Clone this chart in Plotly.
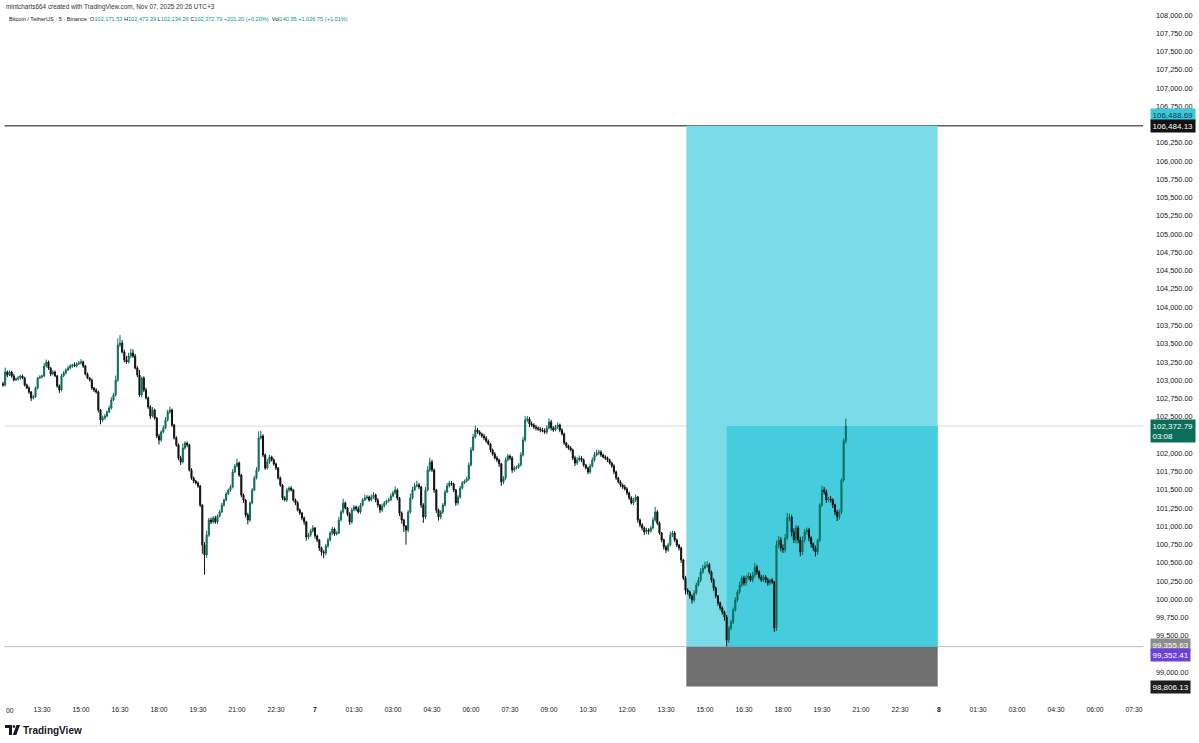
import pandas as pd
import plotly.graph_objects as go

# ---------------- data ----------------
first_open = 102950
closes = [
    102934, 103112, 103071, 103112, 103058, 103003, 103016, 103030, 103058, 103030,
    102934, 102893, 102838, 102756, 102770, 102893, 103030, 103044, 103058, 103194,
    103249, 103167, 103085, 103112, 103058, 102921, 102866, 103058, 103099, 103140,
    103167, 103194, 103208, 103194, 103222, 103235, 103249, 103194, 103085, 103030,
    103003, 102893, 102866, 102838, 102592, 102455, 102483, 102510, 102565, 102619,
    102729, 102797, 103003, 103482, 103509, 103386, 103277, 103249, 103331, 103372,
    103331, 103167, 103071, 102797, 103030, 102866, 102756, 102633, 102510, 102592,
    102483, 102236, 102181, 102291, 102346, 102455, 102565, 102592, 102387, 102209,
    102113, 101935, 101880, 102072, 102140, 102113, 101771, 101661, 101620, 101593,
    101552, 101291, 100744, 100607, 100881, 101086, 101059, 101114, 101059, 101141,
    101196, 101291, 101360, 101442, 101497, 101538, 101743, 101825, 101866, 101702,
    101428, 101360, 101155, 101086, 101319, 101497, 101661, 101771, 102209, 102236,
    101976, 101798, 101880, 101949, 101908, 101853, 101798, 101661, 101565, 101387,
    101360, 101497, 101524, 101497, 101360, 101319, 101223, 101182, 101114, 101059,
    100853, 100881, 100936, 100977, 100867, 100812, 100703, 100648, 100634, 100730,
    100812, 100908, 100963, 100895, 100908, 101086, 101196, 101319, 101250, 101168,
    101059, 101223, 101264, 101237, 101196, 101291, 101360, 101387, 101401, 101360,
    101401, 101428, 101360, 101291, 101223, 101278, 101319, 101346, 101360, 101415,
    101456, 101497, 101387, 101182, 101086, 101004, 100949, 101196, 101387, 101497,
    101552, 101565, 101538, 101291, 101127, 101497, 101771, 101880, 101771, 101497,
    101223, 101127, 101196, 101291, 101469, 101552, 101593, 101579, 101497, 101319,
    101401, 101524, 101593, 101620, 101647, 101839, 102044, 102222, 102318, 102291,
    102263, 102236, 102209, 102168, 102127, 102044, 101990, 101935, 101908, 101853,
    101606, 101661, 101908, 101962, 101935, 101771, 101798, 101812, 101839, 101976,
    102181, 102455, 102469, 102400, 102387, 102359, 102346, 102332, 102318, 102305,
    102291, 102346, 102428, 102346, 102318, 102359, 102387, 102318, 102263, 102140,
    102099, 102072, 102044, 101935, 101866, 101908, 101935, 101908, 101839, 101798,
    101743, 101825, 101908, 101976, 102003, 102017, 101976, 101949, 101935, 101908,
    101866, 101825, 101743, 101661, 101606, 101565, 101538, 101510, 101456, 101387,
    101319, 101360, 101401, 101086, 101018, 100977, 100922, 100949, 100936, 100977,
    101086, 101196, 101045, 100908, 100812, 100716, 100675, 100744, 100881, 100908,
    100812, 100744, 100703, 100538, 100292, 100127, 100100, 100045, 99991, 100086,
    100196, 100264, 100374, 100429, 100456, 100470, 100374, 100264, 100155, 100045,
    99950, 99881, 99826, 99757, 99443, 99607, 99689, 99853, 99991, 100100,
    100196, 100292, 100223, 100292, 100319, 100264, 100333, 100442, 100374, 100305,
    100264, 100305, 100264, 100223, 100264, 100237, 99607, 100744, 100812, 100703,
    100675, 100840, 101114, 101127, 100922, 100812, 100977, 100812, 100648, 100812,
    100922, 100949, 100840, 100757, 100703, 100648, 100812, 101291, 101497, 101469,
    101360, 101374, 101360, 101291, 101196, 101127, 101196, 101634, 102171.53, 102372.79,
]
upper_wick = [
    30, 60, 20, 25, 15, 30, 20, 25, 15, 20,
    15, 20, 25, 15, 30, 20, 15, 25, 20, 40,
    35, 20, 15, 25, 20, 15, 20, 30, 25, 20,
    30, 25, 20, 35, 25, 30, 40, 20, 15, 20,
    15, 20, 15, 25, 20, 15, 30, 25, 20, 35,
    40, 30, 60, 90, 110, 40, 30, 55, 45, 60,
    50, 30, 25, 70, 20, 25, 30, 20, 25, 40,
    20, 15, 30, 25, 35, 40, 30, 45, 20, 15,
    25, 20, 30, 60, 25, 20, 15, 25, 20, 15,
    20, 15, 10, 40, 60, 30, 35, 25, 30, 20,
    25, 30, 20, 25, 20, 30, 40, 25, 60, 20,
    15, 20, 15, 30, 20, 25, 30, 40, 90, 70,
    25, 20, 45, 30, 20, 25, 20, 15, 20, 15,
    25, 30, 20, 25, 15, 20, 25, 20, 15, 20,
    15, 25, 30, 40, 15, 20, 15, 20, 25, 30,
    30, 25, 30, 20, 25, 45, 30, 60, 20, 15,
    25, 30, 25, 20, 35, 30, 25, 45, 30, 20,
    35, 40, 20, 25, 15, 30, 25, 20, 30, 35,
    30, 50, 20, 15, 20, 15, 10, 25, 60, 40,
    45, 60, 30, 15, 25, 40, 50, 60, 30, 20,
    15, 20, 25, 30, 35, 40, 30, 25, 20, 15,
    25, 30, 25, 20, 30, 35, 40, 45, 60, 30,
    25, 20, 30, 25, 20, 15, 20, 25, 30, 20,
    15, 25, 35, 30, 20, 25, 30, 20, 25, 40,
    45, 55, 40, 30, 35, 25, 30, 20, 25, 30,
    35, 40, 50, 30, 25, 30, 35, 20, 25, 20,
    15, 20, 25, 20, 30, 40, 35, 25, 20, 15,
    20, 30, 35, 40, 45, 30, 25, 20, 25, 20,
    15, 20, 25, 20, 15, 25, 20, 30, 25, 20,
    25, 30, 35, 15, 20, 25, 20, 30, 25, 30,
    40, 70, 25, 20, 15, 20, 25, 30, 45, 30,
    25, 20, 15, 20, 15, 30, 25, 20, 25, 40,
    35, 40, 50, 45, 60, 55, 30, 20, 25, 20,
    15, 20, 25, 20, 30, 25, 30, 35, 40, 30,
    45, 35, 30, 40, 50, 35, 40, 60, 30, 25,
    30, 35, 25, 30, 20, 25, 15, 60, 55, 40,
    50, 55, 70, 45, 30, 50, 40, 30, 45, 50,
    40, 35, 30, 25, 20, 30, 20, 25, 60, 40,
    35, 30, 40, 25, 20, 30, 35, 20, 30, 100.6,
]
lower_wick = [
    25, 20, 30, 15, 25, 20, 15, 20, 25, 15,
    20, 15, 25, 40, 20, 15, 20, 15, 20, 15,
    20, 25, 30, 20, 15, 25, 40, 20, 15, 20,
    15, 20, 25, 15, 20, 15, 20, 25, 20, 15,
    20, 25, 30, 20, 35, 60, 30, 25, 20, 15,
    20, 15, 20, 25, 30, 20, 35, 25, 20, 30,
    25, 20, 30, 25, 35, 30, 20, 25, 40, 20,
    25, 30, 60, 25, 20, 15, 20, 25, 30, 20,
    25, 30, 40, 20, 25, 30, 20, 25, 30, 20,
    25, 30, 120, 270, 40, 25, 30, 20, 25, 30,
    20, 15, 25, 20, 15, 25, 20, 15, 20, 25,
    30, 40, 35, 60, 25, 20, 15, 20, 25, 20,
    30, 25, 20, 25, 20, 25, 30, 20, 25, 30,
    20, 25, 30, 20, 25, 30, 20, 25, 30, 40,
    50, 30, 25, 20, 35, 30, 40, 50, 70, 30,
    25, 20, 30, 25, 20, 15, 20, 25, 20, 30,
    40, 25, 20, 30, 20, 25, 20, 15, 20, 25,
    20, 25, 30, 35, 40, 30, 20, 25, 20, 15,
    20, 25, 30, 40, 50, 80, 200, 30, 25, 20,
    15, 20, 30, 40, 80, 30, 20, 25, 30, 40,
    40, 50, 30, 25, 20, 15, 20, 25, 30, 40,
    30, 25, 20, 15, 20, 25, 20, 15, 20, 25,
    20, 25, 30, 25, 20, 30, 25, 20, 30, 40,
    50, 30, 25, 20, 30, 40, 25, 20, 25, 20,
    20, 25, 30, 40, 25, 30, 35, 25, 30, 20,
    25, 30, 20, 35, 25, 20, 25, 30, 20, 25,
    30, 25, 20, 30, 40, 25, 20, 30, 25, 20,
    30, 25, 20, 25, 20, 30, 25, 20, 25, 30,
    20, 25, 30, 25, 20, 30, 25, 20, 30, 25,
    20, 30, 25, 40, 30, 35, 40, 30, 50, 25,
    20, 25, 30, 25, 30, 35, 40, 25, 20, 30,
    25, 30, 35, 40, 30, 60, 35, 40, 50, 30,
    25, 20, 30, 25, 20, 25, 30, 35, 40, 30,
    40, 30, 35, 50, 88, 40, 30, 25, 20, 30,
    25, 30, 35, 40, 30, 25, 30, 35, 40, 30,
    25, 30, 40, 35, 30, 25, 54, 40, 50, 45,
    40, 35, 30, 45, 60, 40, 50, 45, 60, 40,
    35, 40, 45, 50, 40, 60, 40, 30, 25, 35,
    40, 30, 35, 40, 45, 55, 40, 30, 25, 37.27,
]

# first label is the visible remainder ("00") of 12:00 at the chart's left edge
tick_labels = ["00", "13:30", "15:00", "16:30", "18:00", "19:30", "21:00", "22:30", "<b>7</b>",
               "01:30", "03:00", "04:30", "06:00", "07:30", "09:00", "10:30", "12:00", "13:30",
               "15:00", "16:30", "18:00", "19:30", "21:00", "22:30", "<b>8</b>",
               "01:30", "03:00", "04:30", "06:00", "07:30"]
price_ticks = [99000, 99500, 99750, 100000, 100250, 100500, 100750, 101000, 101250, 101500,
               101750, 102000, 102500, 102750, 103000, 103250, 103500, 103750, 104000, 104250,
               104500, 104750, 105000, 105250, 105500, 105750, 106000, 106250, 106750, 107000,
               107250, 107500, 107750, 108000]

target_price = 106484.13
alert_price = 106488.69
last_price = 102372.79
entry_price = 99352.41
entry_label_price = 99355.63
stop_price = 98806.13

# ---------------- build ----------------
times = pd.date_range("2025-11-06 12:00", periods=len(closes), freq="5min")
opens = [first_open] + closes[:-1]
highs = [max(o, c) + u for o, c, u in zip(opens, closes, upper_wick)]
lows = [min(o, c) - l for o, c, l in zip(opens, closes, lower_wick)]
tick_times = pd.date_range("2025-11-06 12:00", periods=len(tick_labels), freq="90min")

FONT = "Liberation Sans, Arial, sans-serif"
UP = "#0d6e5b"
DOWN = "#111111"

fig = go.Figure()
fig.add_trace(go.Candlestick(
    x=times, open=opens, high=highs, low=lows, close=closes,
    increasing=dict(line=dict(color=UP, width=1), fillcolor=UP),
    decreasing=dict(line=dict(color=DOWN, width=1), fillcolor=DOWN),
    whiskerwidth=0, hoverinfo="skip", showlegend=False,
))

pos_x0 = "2025-11-07 14:17"
pos_x1 = "2025-11-07 23:57"
entry_x = "2025-11-07 15:50"

shapes = [
    dict(type="rect", xref="x", yref="y", x0=pos_x0, x1=pos_x1, y0=entry_price, y1=target_price,
         fillcolor="#7bdce8", line=dict(width=0), layer="below"),
    dict(type="rect", xref="x", yref="y", x0=entry_x, x1=pos_x1, y0=entry_price, y1=last_price,
         fillcolor="#46cddd", line=dict(width=0), layer="below"),
    dict(type="rect", xref="x", yref="y", x0=pos_x0, x1=pos_x1, y0=stop_price, y1=entry_price,
         fillcolor="#6f6f6f", line=dict(width=0), layer="below"),
    dict(type="line", xref="paper", yref="y", x0=0.004, x1=1, y0=target_price, y1=target_price,
         line=dict(color="#5f5f5f", width=1.5), layer="below"),
    dict(type="line", xref="paper", yref="y", x0=0.004, x1=1, y0=last_price, y1=last_price,
         line=dict(color="#d9d9d9", width=1), layer="below"),
    dict(type="line", xref="paper", yref="y", x0=0.004, x1=1, y0=entry_price, y1=entry_price,
         line=dict(color="#c9b9c3", width=1), layer="below"),
]

# TradingView logo (approximate mark)
PW, PH = 1143.0, 697.0
def px(x): return x / PW
def py(y): return 1 - y / PH
shapes += [
    dict(type="path", xref="paper", yref="paper",
         path=f"M {px(5)},{py(725)} L {px(12)},{py(725)} L {px(12)},{py(735)} L {px(9)},{py(735)} "
              f"L {px(9)},{py(728)} L {px(5)},{py(728)} Z",
         fillcolor="#131722", line=dict(width=0)),
    dict(type="circle", xref="paper", yref="paper", x0=px(12.6), x1=px(15.2), y0=py(728), y1=py(725.2),
         fillcolor="#131722", line=dict(width=0)),
    dict(type="path", xref="paper", yref="paper",
         path=f"M {px(16.5)},{py(725)} L {px(20)},{py(725)} L {px(16.3)},{py(735)} L {px(12.8)},{py(735)} Z",
         fillcolor="#131722", line=dict(width=0)),
]

annotations = [
    dict(xref="paper", yref="paper", x=0, y=1, xanchor="left", yanchor="top", xshift=4, yshift=-1,
         text="mintcharts664 created with TradingView.com, Nov 07, 2025 20:26 UTC+3",
         showarrow=False, font=dict(family=FONT, size=6.4, color="#333333")),
    dict(xref="paper", yref="paper", x=0, y=1, xanchor="left", yanchor="top", xshift=7, yshift=-14,
         text=("Bitcoin / TetherUS · 5 · Binance&nbsp;&nbsp;O<span style='color:#089981'>102,171.53</span>"
               "&nbsp;H<span style='color:#089981'>102,473.39</span>"
               "&nbsp;L<span style='color:#089981'>102,134.26</span>"
               "&nbsp;C<span style='color:#089981'>102,372.79</span>"
               "&nbsp;<span style='color:#089981'>+201.20 (+0.20%)</span>"
               "&nbsp;&nbsp;Vol<span style='color:#089981'>140.95</span>"
               "&nbsp;<span style='color:#089981'>+1,026.75 (+1.01%)</span>"),
         showarrow=False, font=dict(family=FONT, size=5.6, color="#131722")),
    dict(xref="paper", yref="paper", x=0, y=py(730), xanchor="left", yanchor="middle", xshift=21,
         text="<b>TradingView</b>", showarrow=False, font=dict(family=FONT, size=10, color="#131722")),
    # left-edge time label (remainder of 12:00)
    dict(xref="x", yref="paper", x=tick_times[0], y=0, xanchor="left", yanchor="middle",
         xshift=1, yshift=-13, text=tick_labels[0], showarrow=False,
         font=dict(family=FONT, size=6.8, color="#131722")),
]

def price_label(price, text, bg, fg, yshift=0, anchor="middle"):
    return dict(xref="paper", yref="y", x=1, y=price, xanchor="left", yanchor=anchor, xshift=7,
                yshift=yshift, text=text, showarrow=False, align="left", bgcolor=bg, borderpad=1.5,
                font=dict(family=FONT, size=8, color=fg))

annotations += [
    price_label(alert_price, "106,488.69", "#3cc7db", "#0d3b44", yshift=10),
    price_label(target_price, "106,484.13", "#111111", "#ffffff"),
    price_label(last_price, "102,372.79<br>03:08", "#0b6e5b", "#ffffff", yshift=7, anchor="top"),
    price_label(entry_label_price, "99,355.63", "#8c8c8c", "#ffffff", yshift=1),
    price_label(entry_price, "99,352.41", "#6a42d8", "#ffffff", yshift=-8),
    price_label(stop_price, "98,806.13", "#1e1e1e", "#ffffff"),
]

fig.update_layout(
    width=1199, height=743,
    margin=dict(l=0, r=56, t=0, b=46, autoexpand=False),
    paper_bgcolor="#ffffff", plot_bgcolor="#ffffff",
    shapes=shapes, annotations=annotations,
    font=dict(family=FONT, color="#131722"),
    xaxis=dict(
        range=["2025-11-06 11:53:05", "2025-11-08 07:50:50"],
        rangeslider=dict(visible=False), automargin=False,
        showgrid=False, zeroline=False, showline=False, ticks="",
        tickvals=tick_times[1:], ticktext=tick_labels[1:],
        tickfont=dict(family=FONT, size=6.8, color="#131722"),
        ticklabelstandoff=7,
    ),
    yaxis=dict(
        range=[98663, 108205], side="right", automargin=False,
        showgrid=False, zeroline=False, showline=False, ticks="",
        tickvals=price_ticks, tickformat=",.2f",
        tickfont=dict(family=FONT, size=7.3, color="#131722"),
        ticklabelstandoff=12,
    ),
)

fig.write_html(
    "out.html",
    config={"displayModeBar": False},
    post_script="document.body.style.margin='0';document.body.style.padding='0';",
)
